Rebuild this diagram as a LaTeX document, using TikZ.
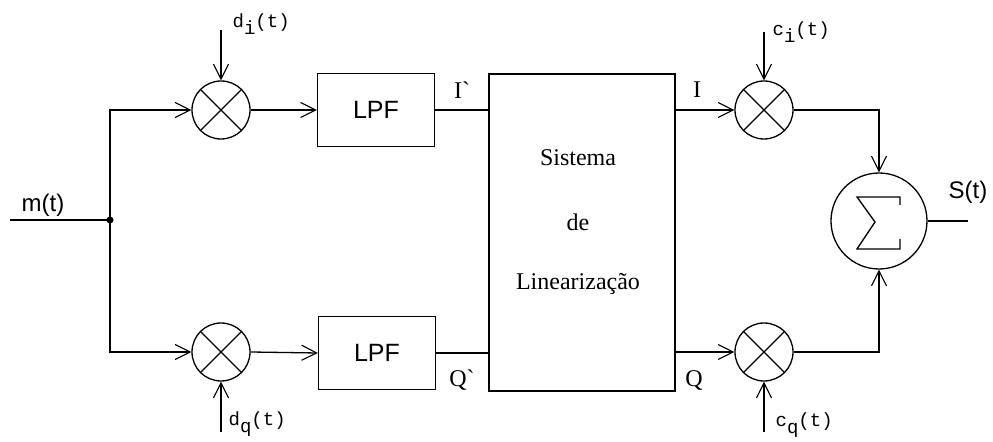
\documentclass[tikz,border=0pt]{standalone}
\usepackage{fontspec}
\setmainfont{Liberation Serif}
\newfontfamily\sansf{Liberation Sans}
\newfontfamily\monof{Liberation Mono}
\usetikzlibrary{arrows.meta,positioning,calc}

\newcommand{\lowsub}[1]{\raisebox{-7bp}{#1}}

\begin{document}
\begin{tikzpicture}[
    x=1bp, y=-1bp,
    line width=1.3bp,
    arrow/.style={-{Straight Barb[length=15bp,width=15bp,line width=1.1bp]}},
    mult/.style={circle, draw, minimum size=58bp, inner sep=0pt,
      path picture={\draw (path picture bounding box.south west) -- (path picture bounding box.north east)
        (path picture bounding box.north west) -- (path picture bounding box.south east);}},
    block/.style={rectangle, draw, minimum width=117bp, minimum height=73bp, inner sep=0pt,
      font=\sansf\fontsize{25bp}{28bp}\selectfont},
    sanslbl/.style={inner sep=0pt, font=\sansf\fontsize{24bp}{28bp}\selectfont},
    seriflbl/.style={inner sep=0pt, font=\fontsize{24bp}{28bp}\selectfont},
    monolbl/.style={inner sep=0pt, anchor=west, font=\monof\fontsize{19bp}{22bp}\selectfont}
  ]
    \useasboundingbox (0,0) rectangle (993,442);

    % input and split
    \coordinate (in) at (10,220);
    \coordinate (split) at (110,220);
    \node[sanslbl] (mlbl) at (43,205) {m(t)};

    % mixers with d_i, d_q
    \node[mult] (mi) at (221,110) {};
    \node[mult] (mq) at (221,352) {};
    \coordinate (di) at (221,30);
    \coordinate (dq) at (221,432);
    \node[monolbl] (dilbl) at (232,24) {d\lowsub{i}(t)};
    \node[monolbl] (dqlbl) at (228,424) {d\lowsub{q}(t)};

    % filters
    \node[block] (lpfi) at (376,110) {LPF};
    \node[block] (lpfq) at (377,353) {LPF};

    % linearization system
    \node[rectangle, draw, minimum width=186bp, minimum height=317bp, inner sep=0pt] (lin) at (582,232.5) {};
    \node[seriflbl] (t1) at (578,158) {Sistema};
    \node[seriflbl] (t2) at (578,222) {de};
    \node[seriflbl] (t3) at (578,284) {Linearização};
    \node[seriflbl] (ilbl) at (462,90) {I\textasciigrave};
    \node[seriflbl] (qlbl) at (462,380) {Q\textasciigrave};
    \node[seriflbl] (iout) at (697,90) {I};
    \node[seriflbl] (qout) at (694,381) {Q};

    % carriers
    \node[mult] (ci) at (764,110) {};
    \node[mult] (cq) at (764,352) {};
    \coordinate (cit) at (764,32);
    \coordinate (cqt) at (764,432);
    \node[monolbl] (cilbl) at (772,32) {c\lowsub{i}(t)};
    \node[monolbl] (cqlbl) at (775,425) {c\lowsub{q}(t)};

    % summer
    \node[circle, draw, minimum size=96bp, inner sep=0pt] (sum) at (879,221) {};
    \draw (900,205) -- (900,197) -- (857,197) -- (875,222) -- (857,249) -- (900,249) -- (900,239);
    \coordinate (out) at (968,221);
    \node[sanslbl] (slbl) at (968,192) {S(t)};

    \draw (in) -- (split);
    \fill (split) circle (3.5bp);
    \draw[arrow] (split) |- (mi.west);
    \draw[arrow] (split) |- (mq.west);
    \draw[arrow] (di) -- (mi.north);
    \draw[arrow] (dq) -- (mq.south);
    \draw[arrow] (mi.east) -- (lpfi.west);
    \draw[arrow] (mq.east) -- (lpfq.west);
    \draw (lpfi.east) -- (lpfi.east -| lin.west);
    \draw (lpfq.east) -- (lpfq.east -| lin.west);
    \draw[arrow] (ci.west -| lin.east) -- (ci.west);
    \draw[arrow] (cq.west -| lin.east) -- (cq.west);
    \draw[arrow] (cit) -- (ci.north);
    \draw[arrow] (cqt) -- (cq.south);
    \draw[arrow] (ci.east) -| (sum.north);
    \draw[arrow] (cq.east) -| (sum.south);
    \draw (sum.east) -- (out);
  \end{tikzpicture}
\end{document}
